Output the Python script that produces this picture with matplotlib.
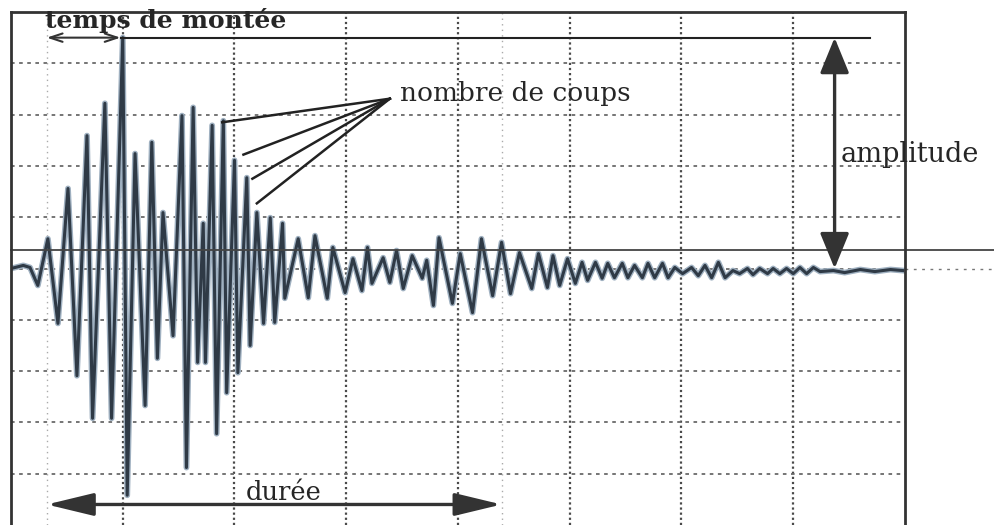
import matplotlib.pyplot as plt

# signal: extrema, time in grid divisions, amplitude in grid divisions
t_sig = [0.00, 0.11, 0.17, 0.24, 0.33, 0.42, 0.51, 0.59, 0.68, 0.73, 0.84, 0.90,
         1.00, 1.04, 1.11, 1.20, 1.26, 1.31, 1.36, 1.45, 1.53, 1.57, 1.63, 1.67,
         1.72, 1.74, 1.80, 1.84, 1.90, 1.93, 2.00, 2.03, 2.11, 2.14, 2.20, 2.26,
         2.32, 2.36, 2.43, 2.45, 2.57, 2.66, 2.72, 2.83, 2.88, 2.99, 3.06, 3.14,
         3.19, 3.23, 3.33, 3.39, 3.45, 3.51, 3.59, 3.68, 3.72, 3.78, 3.83, 3.95,
         4.02, 4.13, 4.21, 4.31, 4.39, 4.47, 4.55, 4.66, 4.72, 4.80, 4.85, 4.91,
         4.98, 5.05, 5.11, 5.16, 5.23, 5.29, 5.34, 5.40, 5.47, 5.52, 5.58, 5.65,
         5.70, 5.76, 5.83, 5.88, 5.94, 6.01, 6.09, 6.15, 6.21, 6.27, 6.33, 6.39,
         6.46, 6.52, 6.59, 6.64, 6.70, 6.77, 6.82, 6.88, 6.94, 7.00, 7.06, 7.12,
         7.18, 7.24, 7.36, 7.46, 7.60, 7.73, 7.87, 7.98]
a_sig = [0.00, 0.06, 0.02, -0.33, 0.58, -1.07, 1.56, -2.09, 2.59, -2.92, 3.22, -2.92,
         4.50, -4.42, 2.24, -2.67, 2.46, -1.75, 1.09, -1.31, 2.98, -3.88, 3.14, -1.83,
         0.88, -1.83, 2.79, -3.22, 2.88, -2.42, 2.11, -2.03, 1.77, -1.50, 1.09, -1.07,
         0.99, -1.05, 0.88, -0.58, 0.58, -0.57, 0.64, -0.58, 0.41, -0.47, 0.19, -0.43,
         0.41, -0.29, 0.21, -0.27, 0.35, -0.39, 0.25, -0.19, 0.16, -0.72, 0.60, -0.68,
         0.29, -0.86, 0.58, -0.53, 0.51, -0.49, 0.31, -0.39, 0.29, -0.37, 0.25, -0.33,
         0.19, -0.29, 0.12, -0.23, 0.12, -0.19, 0.10, -0.18, 0.10, -0.18, 0.06, -0.18,
         0.10, -0.18, 0.10, -0.18, 0.02, -0.10, 0.02, -0.14, 0.06, -0.18, 0.12, -0.18,
         -0.04, -0.10, 0.00, -0.12, 0.00, -0.10, 0.00, -0.10, 0.00, -0.10, 0.02, -0.10,
         0.02, -0.06, -0.04, -0.08, -0.02, -0.06, -0.02, -0.04]

threshold = 0.37
peak_level = 4.5
rise = (0.32, 0.98)
duration = (0.32, 4.39)
amp_x = 7.37
# "nombre de coups" leader lines: common start, then the four counted crossings
counts_from = (3.39, 3.31)
counts_x = [1.89, 2.08, 2.16, 2.20]
counts_y = [2.85, 2.22, 1.75, 1.27]

ink = '#2f3a46'
txt = '#262626'
fig = plt.figure(figsize=(9.95, 5.25), dpi=100)
ax = fig.add_axes([11 / 995, 0, 894 / 995, 513 / 525])
ax.set_xlim(0, 8)
ax.set_ylim(-5, 5)

ax.set_xticks(range(1, 8))
ax.set_yticks(range(-4, 5))
ax.tick_params(length=0, labelbottom=False, labelleft=False)
ax.xaxis.grid(True, ls=(0, (1, 1.3)), lw=1.6, color='#4a4a4a')
ax.yaxis.grid(True, ls=(0, (2, 2.5)), lw=1.3, color='#6a6a6a')
for s in ['left', 'top', 'right']:
    ax.spines[s].set_linewidth(2)
    ax.spines[s].set_color('#333333')
ax.spines['bottom'].set_visible(False)

# faint markers for start / end of the duration
for xm in duration:
    ax.axvline(xm, ls=(0, (1, 3)), lw=1, color='#aaaaaa')

ax.plot(t_sig, a_sig, color='#9fb0c0', lw=4.2, solid_joinstyle='round')
ax.plot(t_sig, a_sig, color=ink, lw=2.2, solid_joinstyle='round')

ax.plot([0, 8.8], [threshold, threshold], color='#444444', lw=1.3, clip_on=False)
ax.plot([8, 8.8], [0, 0], color='#777777', lw=1, ls=(0, (2, 4)), clip_on=False)
ax.plot([rise[1], 7.69], [peak_level, peak_level], color='#222222', lw=1.5)

ax.annotate('', xy=(rise[0], peak_level), xytext=(rise[1], peak_level),
            arrowprops=dict(arrowstyle='<->,head_length=0.9,head_width=0.3',
                            mutation_scale=10, lw=1.5, color='#333333',
                            shrinkA=0, shrinkB=0))
ax.annotate('', xy=(duration[0], -4.6), xytext=(duration[1], -4.6),
            arrowprops=dict(arrowstyle='<|-|>,head_length=2.9,head_width=0.7',
                            mutation_scale=10, lw=2.4, color='#333333',
                            shrinkA=0, shrinkB=0))
ax.annotate('', xy=(amp_x, peak_level), xytext=(amp_x, 0),
            arrowprops=dict(arrowstyle='<|-|>,head_length=2.2,head_width=0.9',
                            mutation_scale=10, lw=2.4, color='#333333',
                            shrinkA=0, shrinkB=0))

for cx, cy in zip(counts_x, counts_y):
    ax.plot([counts_from[0], cx], [counts_from[1], cy], color='#222222', lw=1.8)

serif = 'DejaVu Serif'
ax.text(0.30, 4.68, 'temps de montée', family=serif, fontweight='bold',
        fontsize=18, color=txt, va='baseline')
ax.text(3.48, 3.27, 'nombre de coups', family=serif, fontsize=19,
        color=txt, va='baseline')
ax.text(7.42, 2.07, 'amplitude', family=serif, fontsize=19.5,
        color=txt, va='baseline', clip_on=False)
ax.text(2.10, -4.52, 'durée', family=serif, fontsize=18.5,
        color=txt, va='baseline')

fig.savefig('out.png', dpi=100)
